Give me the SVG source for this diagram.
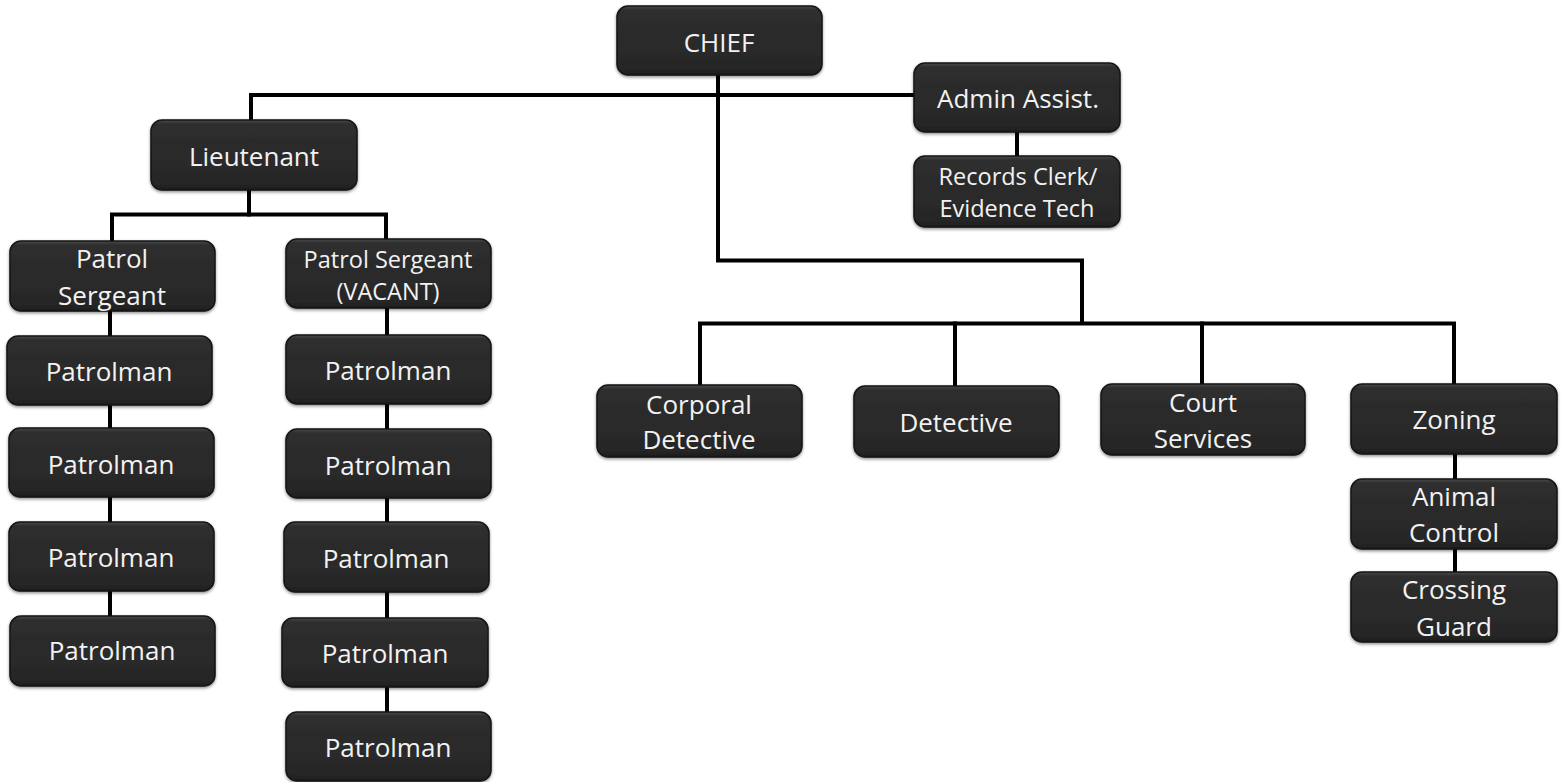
<svg xmlns="http://www.w3.org/2000/svg" width="1562" height="782" viewBox="0 0 1562 782">
<defs>
<linearGradient id="g" x1="0" y1="0" x2="0" y2="1">
<stop offset="0" stop-color="#4a4a4a"/>
<stop offset="0.06" stop-color="#2e2e2e"/>
<stop offset="0.9" stop-color="#272727"/>
<stop offset="1" stop-color="#1c1c1c"/>
</linearGradient>
<filter id="sh" x="-10%" y="-10%" width="120%" height="130%">
<feDropShadow dx="0" dy="1.5" stdDeviation="1.5" flood-color="#000" flood-opacity="0.45"/>
</filter>
</defs>
<style>
.box{fill:url(#g);stroke:#151515;stroke-width:1.5;filter:url(#sh)}
.t{font-family:"Open Sans","Liberation Sans",sans-serif;font-size:26px;fill:#f2f2f2;text-anchor:middle}
.s{font-size:23.5px}
.c{fill:none;stroke:#000;stroke-width:4;stroke-linejoin:miter;stroke-linecap:square}
</style>
<rect width="1562" height="782" fill="#fff"/>
<g id="connectors">
<path class="c" d="M718,75 V260.5 H1082 V323"/>
<path class="c" d="M700,385 V323.5 H1454 V384"/>
<path class="c" d="M955,323.5 V386"/>
<path class="c" d="M1202,323.5 V384"/>
<path class="c" d="M914,95 H251 V120"/>
<path class="c" d="M1017,132 V156"/>
<path class="c" d="M249,190 V214.5"/>
<path class="c" d="M112,241 V214.5 H386 V239"/>
<path class="c" d="M110,311 V616"/>
<path class="c" d="M387,308 V712"/>
<path class="c" d="M1455,454 V572"/>
</g>
<g id="chief"><rect class="box" x="617" y="6" width="205" height="69" rx="11"/><text class="t" x="719" y="52">CHIEF</text></g>
<g id="admin"><rect class="box" x="914" y="63" width="206" height="69" rx="11"/><text class="t" x="1018" y="108">Admin Assist.</text></g>
<g id="records"><rect class="box" x="914" y="156" width="206" height="71" rx="11"/><text class="t s" x="1018" y="185">Records Clerk/</text><text class="t s" x="1017" y="217">Evidence Tech</text></g>
<g id="lieutenant"><rect class="box" x="151" y="120" width="206" height="70" rx="11"/><text class="t" x="254" y="166">Lieutenant</text></g>
<g id="sgt1"><rect class="box" x="10" y="241" width="205" height="70" rx="11"/><text class="t" x="112" y="268">Patrol</text><text class="t" x="112" y="305">Sergeant</text></g>
<g id="sgt2"><rect class="box" x="286" y="239" width="205" height="69" rx="11"/><text class="t s" x="388" y="268">Patrol Sergeant</text><text class="t s" x="388" y="300">(VACANT)</text></g>
<g id="pl1"><rect class="box" x="7" y="336" width="205" height="69" rx="11"/><text class="t" x="109" y="381">Patrolman</text></g>
<g id="pl2"><rect class="box" x="9" y="428" width="205" height="69" rx="11"/><text class="t" x="111" y="474">Patrolman</text></g>
<g id="pl3"><rect class="box" x="9" y="522" width="205" height="69" rx="11"/><text class="t" x="111" y="567">Patrolman</text></g>
<g id="pl4"><rect class="box" x="10" y="616" width="205" height="70" rx="11"/><text class="t" x="112" y="660">Patrolman</text></g>
<g id="pr1"><rect class="box" x="286" y="335" width="205" height="69" rx="11"/><text class="t" x="388" y="380">Patrolman</text></g>
<g id="pr2"><rect class="box" x="286" y="429" width="205" height="69" rx="11"/><text class="t" x="388" y="475">Patrolman</text></g>
<g id="pr3"><rect class="box" x="284" y="522" width="205" height="70" rx="11"/><text class="t" x="386" y="568">Patrolman</text></g>
<g id="pr4"><rect class="box" x="282" y="618" width="206" height="69" rx="11"/><text class="t" x="385" y="663">Patrolman</text></g>
<g id="pr5"><rect class="box" x="286" y="712" width="205" height="69" rx="11"/><text class="t" x="388" y="757">Patrolman</text></g>
<g id="corporal"><rect class="box" x="597" y="385" width="205" height="72" rx="11"/><text class="t" x="699" y="414">Corporal</text><text class="t" x="699" y="449">Detective</text></g>
<g id="detective"><rect class="box" x="854" y="386" width="205" height="71" rx="11"/><text class="t" x="956" y="432">Detective</text></g>
<g id="court"><rect class="box" x="1101" y="384" width="204" height="71" rx="11"/><text class="t" x="1203" y="412">Court</text><text class="t" x="1203" y="448">Services</text></g>
<g id="zoning"><rect class="box" x="1351" y="384" width="206" height="70" rx="11"/><text class="t" x="1454" y="429">Zoning</text></g>
<g id="animal"><rect class="box" x="1351" y="479" width="206" height="70" rx="11"/><text class="t" x="1454" y="506">Animal</text><text class="t" x="1454" y="542">Control</text></g>
<g id="crossing"><rect class="box" x="1351" y="572" width="206" height="70" rx="11"/><text class="t" x="1454" y="599">Crossing</text><text class="t" x="1454" y="636">Guard</text></g>
</svg>
